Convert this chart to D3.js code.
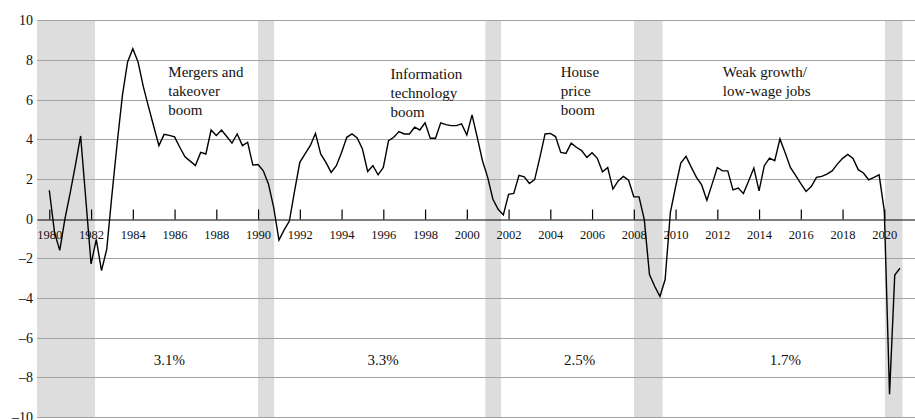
<!DOCTYPE html>
<html>
<head>
<meta charset="utf-8">
<script src="https://cdn.jsdelivr.net/npm/d3@7"></script>
<style>
  html, body { margin: 0; padding: 0; background: #fff; }
  svg { display: block; font-family: "Liberation Serif", "DejaVu Serif", serif; }
</style>
</head>
<body>
<div id="chart"></div>
<script>
// Year-over-year growth, one value per quarter, 1980Q1 .. 2020Q4
var firstYear = 1980;
var growth = [
  1.43, -0.7, -1.6, 0.0,     // 1980
  1.3, 2.7, 4.17, 0.95,      // 1981
  -2.28, -1.05, -2.62, -1.55,// 1982
  1.2, 3.8, 6.2, 7.9,        // 1983
  8.57, 7.9, 6.67, 5.65,     // 1984
  4.66, 3.68, 4.25, 4.2,     // 1985
  4.12, 3.6, 3.12, 2.9,      // 1986
  2.68, 3.34, 3.26, 4.47,    // 1987
  4.19, 4.47, 4.14, 3.81,    // 1988
  4.27, 3.68, 3.85, 2.70,    // 1989
  2.73, 2.41, 1.74, 0.56,    // 1990
  -1.08, -0.57, -0.12, 1.4,  // 1991
  2.84, 3.26, 3.68, 4.3,     // 1992
  3.26, 2.84, 2.33, 2.67,    // 1993
  3.34, 4.1, 4.27, 4.07,     // 1994
  3.51, 2.38, 2.67, 2.21,    // 1995
  2.58, 3.93, 4.1, 4.39,     // 1996
  4.27, 4.27, 4.61, 4.47,    // 1997
  4.83, 4.05, 4.05, 4.83,    // 1998
  4.74, 4.69, 4.69, 4.78,    // 1999
  4.22, 5.23, 4.1, 2.92,     // 2000
  2.08, 0.98, 0.47, 0.19,    // 2001
  1.23, 1.27, 2.18, 2.11,    // 2002
  1.77, 1.97, 3.09, 4.27,    // 2003
  4.3, 4.14, 3.34, 3.29,     // 2004
  3.81, 3.6, 3.43, 3.09,     // 2005
  3.32, 3.04, 2.36, 2.58,    // 2006
  1.49, 1.9, 2.13, 1.94,     // 2007
  1.1, 1.1, -0.03, -2.82,    // 2008
  -3.41, -3.92, -3.07, 0.3,  // 2009
  1.6, 2.8, 3.14, 2.6,       // 2010
  2.08, 1.7, 0.93, 1.74,     // 2011
  2.58, 2.41, 2.41, 1.45,    // 2012
  1.54, 1.27, 1.9, 2.55,     // 2013
  1.4, 2.67, 3.05, 2.92,     // 2014
  4.02, 3.32, 2.58, 2.18,    // 2015
  1.77, 1.37, 1.62, 2.08,    // 2016
  2.13, 2.25, 2.41, 2.75,    // 2017
  3.04, 3.24, 3.04, 2.47,    // 2018
  2.3, 1.96, 2.08, 2.21,     // 2019
  0.39, -8.85, -2.84, -2.5   // 2020
];

// Shaded recessions (decimal years)
var recessionStart = [1979.41, 1990.0, 2000.89, 2008.01, 2020.03];
var recessionEnd   = [1982.19, 1990.77, 2001.64, 2009.38, 2020.87];

var yTicks = [-10, -8, -6, -4, -2, 0, 2, 4, 6, 8, 10];
var xTickYears = [1980, 1982, 1984, 1986, 1988, 1990, 1992, 1994, 1996, 1998, 2000,
                  2002, 2004, 2006, 2008, 2010, 2012, 2014, 2016, 2018, 2020];

var boomLabels = [
  ["Mergers and", "takeover", "boom"],
  ["Information", "technology", "boom"],
  ["House", "price", "boom"],
  ["Weak growth/", "low-wage jobs"]
];
var averageLabels = ["3.1%", "3.3%", "2.5%", "1.7%"];

var W = 915, H = 420;
var margin = {top: 20.3, right: 0, bottom: 3, left: 37};

var svg = d3.select("#chart")
  .append("svg")
  .attr("width", W)
  .attr("height", H);

var x = d3.scaleLinear()
  .domain([1979.41, 2021.47])
  .range([margin.left, W - margin.right]);

var y = d3.scaleLinear()
  .domain([-10, 10])
  .range([H - margin.bottom, margin.top]);

// recession bands
svg.append("g")
  .selectAll("rect")
  .data(recessionStart)
  .join("rect")
    .attr("x", d => x(d))
    .attr("y", y(10))
    .attr("width", (d, i) => x(recessionEnd[i]) - x(d))
    .attr("height", y(-10) - y(10))
    .attr("fill", "#dddddd");

// horizontal grid
svg.append("g")
  .selectAll("line")
  .data(yTicks.filter(d => d !== 0))
  .join("line")
    .attr("x1", margin.left)
    .attr("x2", W - margin.right)
    .attr("y1", d => Math.round(y(d)) + 0.5)
    .attr("y2", d => Math.round(y(d)) + 0.5)
    .attr("stroke", "#a3a3a3")
    .attr("stroke-width", 1);

// y labels
var fmt = d => d < 0 ? "\u2013" + Math.abs(d) : String(d);
svg.append("g")
  .attr("transform", `translate(${margin.left},0)`)
  .call(d3.axisLeft(y).tickValues(yTicks).tickFormat(fmt).tickSize(0).tickPadding(4))
  .call(g => g.select(".domain").remove())
  .call(g => g.selectAll("text")
      .attr("font-family", "Liberation Serif, serif")
      .attr("font-size", 14)
      .attr("fill", "#111"));

// zero line with upward ticks and year labels below it
var y0 = Math.round(y(0)) + 0.5;
svg.append("g")
  .attr("transform", `translate(0,${y0})`)
  .call(d3.axisBottom(x).tickValues(xTickYears).tickFormat(d3.format("d"))
      .tickSizeInner(-10).tickSizeOuter(0).tickPadding(11))
  .call(g => g.select(".domain").attr("stroke", "#000").attr("stroke-width", 1.2))
  .call(g => g.selectAll(".tick line").attr("stroke", "#000").attr("stroke-width", 1.2))
  .call(g => g.selectAll("text")
      .attr("font-family", "Liberation Serif, serif")
      .attr("font-size", 12.5)
      .attr("fill", "#111"));

// growth line
var line = d3.line()
  .x((d, i) => x(firstYear + i / 4))
  .y(d => y(d));

svg.append("path")
  .datum(growth)
  .attr("fill", "none")
  .attr("stroke", "#000")
  .attr("stroke-width", 1.4)
  .attr("stroke-linejoin", "miter")
  .attr("d", line);

// annotations, anchored in data units
var boomAt = [[1985.70, 7.15], [1996.35, 7.05], [2004.50, 7.15], [2012.26, 7.15]];
var averageAt = [1985.75, 1995.99, 2005.41, 2015.26];

boomLabels.forEach(function(lines, i) {
  var t = svg.append("text")
    .attr("x", x(boomAt[i][0]))
    .attr("y", y(boomAt[i][1]))
    .attr("font-size", 15)
    .attr("fill", "#111");
  lines.forEach(function(s, j) {
    t.append("tspan")
      .attr("x", x(boomAt[i][0]))
      .attr("dy", j === 0 ? 0 : 19)
      .text(s);
  });
});

svg.append("g")
  .selectAll("text")
  .data(averageLabels)
  .join("text")
    .attr("x", (d, i) => x(averageAt[i]))
    .attr("y", y(-7.37))
    .attr("text-anchor", "middle")
    .attr("font-size", 15)
    .attr("fill", "#111")
    .text(d => d);
</script>
</body>
</html>
